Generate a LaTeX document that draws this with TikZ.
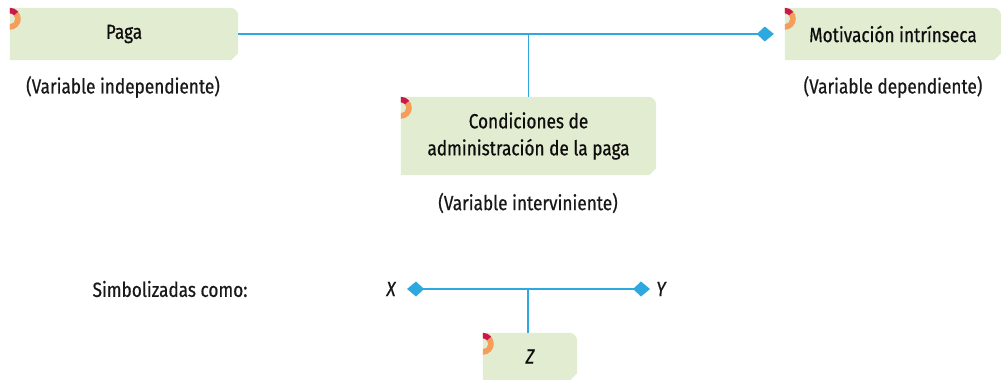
\documentclass[tikz,border=0pt]{standalone}
\usepackage{fontspec}
\setmainfont[FakeStretch=0.84,FakeBold=0.6]{Fira Sans}
\usetikzlibrary{arrows.meta,backgrounds}
\definecolor{boxgreen}{HTML}{E1ECD0}
\definecolor{ornorange}{HTML}{F59D5B}
\definecolor{ornred}{HTML}{C9174F}
\definecolor{linkblue}{HTML}{2EA9E0}
\tikzset{
  vbox/.style={inner sep=0pt, align=center, font=\fontsize{20.5}{27}\selectfont, text=black!95},
  vlabel/.style={inner sep=0pt, font=\fontsize{20.5}{25}\selectfont, text=black!90},
  link/.style={draw=linkblue, line width=1.6pt},
  tip/.style={-{Kite[length=17pt,width=15pt,inset=8pt]}},
  tips/.style={{Kite[length=17pt,width=15pt,inset=8pt]}-{Kite[length=17pt,width=15pt,inset=8pt]}}
}
\newcommand\greenbox[1]{%
  \begin{pgfonlayer}{background}
    \fill[boxgreen] (#1.south west) -- (#1.north west) -- ([xshift=-8pt]#1.north east)
      arc[start angle=90,end angle=0,radius=8pt] -- ([yshift=7pt]#1.south east)
      -- ([xshift=-7pt]#1.south east) -- cycle;
    \begin{scope}
      \clip (#1.north west) rectangle ([xshift=14pt,yshift=-30pt]#1.north west);
      \fill[ornorange] ([yshift=-11pt]#1.north west) ++(-90:11pt)
        arc[start angle=-90,end angle=90,radius=11pt] -- ++(0,-5.5pt)
        arc[start angle=90,end angle=-90,radius=5.5pt] -- cycle;
      \fill[ornred] ([yshift=-11pt]#1.north west) ++(40:11pt)
        arc[start angle=40,end angle=90,radius=11pt] -- ++(0,-5.5pt)
        arc[start angle=90,end angle=40,radius=5.5pt] -- cycle;
    \end{scope}
  \end{pgfonlayer}}
\begin{document}
\begin{tikzpicture}[x=1pt,y=1pt]
\useasboundingbox (0,0) rectangle (1001,-380);
% nodes
\node[vbox, minimum width=228pt, minimum height=52pt] (paga) at (124,-34) {Paga};
\node[vbox, minimum width=216pt, minimum height=52pt] (mot) at (893,-34) {Motivación intrínseca};
\node[vbox, minimum width=255pt, minimum height=78pt] (cond) at (528.5,-136) {Condiciones de\\administración de la paga};
\node[vbox, minimum width=94pt, minimum height=47pt] (z) at (530,-356.5) {\itshape Z};
\greenbox{paga}
\greenbox{mot}
\greenbox{cond}
\greenbox{z}
\node[vlabel] (lind) at (123,-87) {(Variable independiente)};
\node[vlabel] (ldep) at (893,-87) {(Variable dependiente)};
\node[vlabel] (lint) at (528,-203) {(Variable interviniente)};
\node[vlabel] (simb) at (170,-289) {Simbolizadas como:};
\node[vlabel] (x) at (391,-289) {\itshape X};
\node[vlabel] (y) at (661,-289) {\itshape Y};
% connectors
\coordinate (j1) at (cond.north |- paga.east);
\draw[link, tip, shorten >=11pt] (paga.east) -- (mot.west);
\draw[link] (cond.north) -- (j1);
\draw[link, tips, shorten <=16pt, shorten >=11pt] (x.center) -- (y.center);
\coordinate (j2) at ([xshift=-2pt]z.north |- x.center);
\draw[link] ([xshift=-2pt]z.north) -- (j2);
\end{tikzpicture}
\end{document}
